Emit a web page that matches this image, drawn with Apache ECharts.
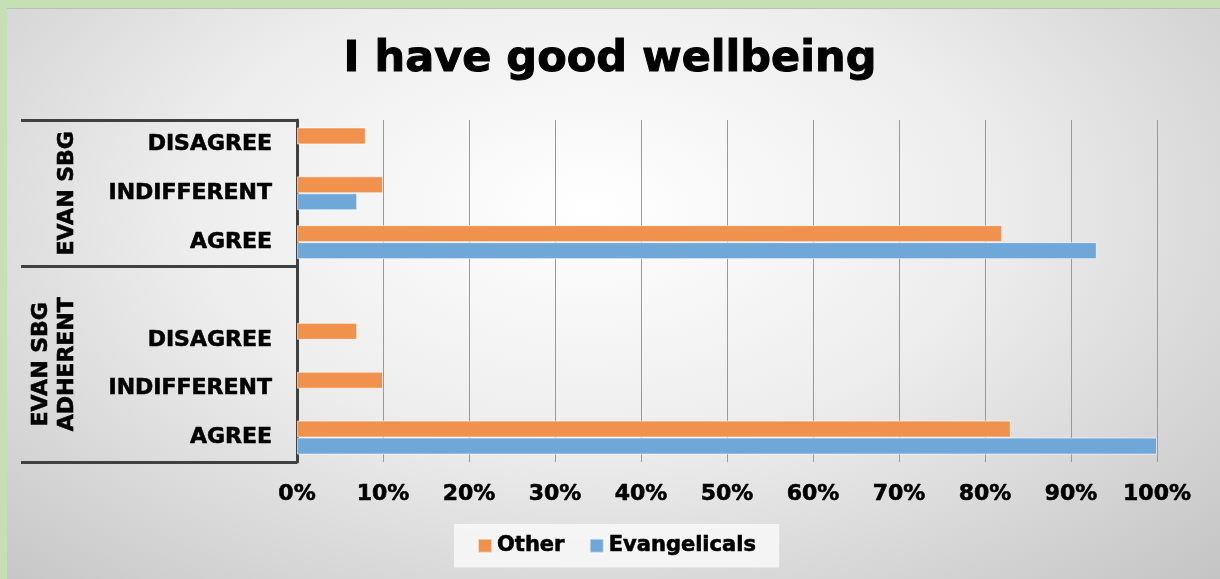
<!DOCTYPE html>
<html lang="en">
<head>
  <meta charset="UTF-8">
  <title>I have good wellbeing</title>
  <style>
    html, body { margin: 0; padding: 0; }
    body { width: 1220px; height: 579px; background: #c5e0b4; position: relative; overflow: hidden; }
    .panel { position: absolute; left: 7px; top: 8px; right: 0; bottom: 0;
             border-top: 1px solid #bdbdbd;
             background: radial-gradient(ellipse at 48% 35%, #ffffff 0%, #ededed 45%, #c4c4c4 100%); }
    #main { position: absolute; left: 0; top: 0; width: 1220px; height: 579px; }
  </style>
  <script src="https://cdn.jsdelivr.net/npm/echarts@6/dist/echarts.min.js"></script>
</head>
<body>
  <div class="panel"></div>
  <div id="main"></div>

  <script type="text/javascript">
    // categories, bottom to top (blank row pads the lower group)
    var categories = ['AGREE', 'INDIFFERENT', 'DISAGREE', '', 'AGREE', 'INDIFFERENT', 'DISAGREE'];
    var otherValues = [83, 10, 7, null, 82, 10, 8];
    var evangelicalValues = [100, null, null, null, 93, 7, null];

    // outer group axis: label centres and box lines, in category units
    var groupNames = ['EVAN SBG\nADHERENT', 'EVAN SBG'];
    var groupCenters = [2, 5.5];
    var groupBounds = [0, 4, 7];

    var fontFamily = '"DejaVu Sans", Verdana, sans-serif';
    // heavier strokes, closer to the original bold face
    var boldText = { fontFamily: fontFamily, fontWeight: 'bold', color: '#000',
                     textBorderColor: '#000', textBorderWidth: 0.6 };

    var myChart = echarts.init(document.getElementById('main'));

    var option = {
      backgroundColor: 'transparent',
      title: {
        text: 'I have good wellbeing',
        left: 'center',
        top: 33,
        textStyle: Object.assign({}, boldText, { fontSize: 43, textBorderWidth: 1 })
      },
      legend: {
        data: ['Other', 'Evangelicals'],
        left: 454,
        top: 524,
        icon: 'rect',
        itemWidth: 14,
        itemHeight: 14,
        itemGap: 24,
        padding: [11, 23],
        backgroundColor: 'rgba(248,248,248,0.85)',
        textStyle: Object.assign({}, boldText, { fontSize: 21 })
      },
      grid: { left: 297, right: 63, top: 120, bottom: 117 },
      xAxis: {
        type: 'value',
        min: 0,
        max: 100,
        interval: 10,
        axisLine: { show: false },
        axisTick: { show: false },
        axisLabel: Object.assign({
          formatter: '{value}%',
          margin: 21,
          fontSize: 22
        }, boldText),
        splitLine: { lineStyle: { color: '#999999', width: 1 } }
      },
      yAxis: [{
        type: 'category',
        data: categories,
        axisLine: { show: true, lineStyle: { color: '#404040', width: 3 } },
        axisTick: { show: false },
        axisLabel: Object.assign({ margin: 25, fontSize: 22 }, boldText)
      }, {
        type: 'value',
        position: 'left',
        min: 0,
        max: 7,
        interval: 0.5,
        axisLine: { show: false },
        splitLine: { show: false },
        axisTick: {
          show: true,
          customValues: groupBounds,
          length: 276,
          lineStyle: { color: '#404040', width: 3 }
        },
        axisLabel: Object.assign({
          customValues: groupCenters,
          formatter: function (v) {
            return groupNames[groupCenters.indexOf(v)];
          },
          rotate: 90,
          margin: 217,
          lineHeight: 26,
          fontSize: 22
        }, boldText)
      }],
      series: [{
        name: 'Other',
        type: 'bar',
        data: otherValues,
        barWidth: 17,
        barGap: '0%',
        itemStyle: { color: '#f0914e', borderColor: 'rgba(255,255,255,0.6)', borderWidth: 1 }
      }, {
        name: 'Evangelicals',
        type: 'bar',
        data: evangelicalValues,
        barWidth: 17,
        barGap: '0%',
        itemStyle: { color: '#6fa7d9', borderColor: 'rgba(255,255,255,0.6)', borderWidth: 1 }
      }]
    };

    myChart.setOption(option);
  </script>
</body>
</html>
